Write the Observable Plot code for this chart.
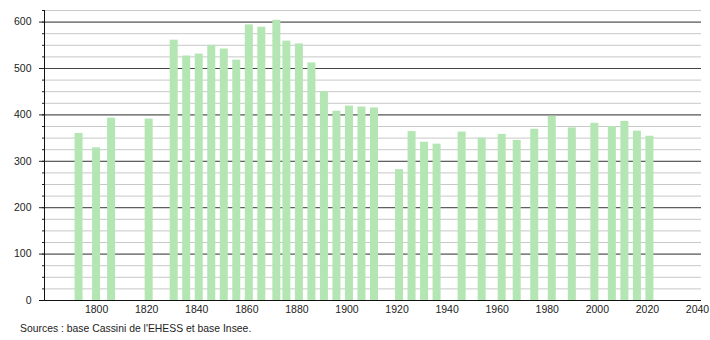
<!DOCTYPE html>
<html>
<head>
<meta charset="utf-8">
<script src="https://cdn.jsdelivr.net/npm/d3@7"></script>
<script src="https://cdn.jsdelivr.net/npm/@observablehq/plot@0.6"></script>
<style>
  html, body { margin: 0; padding: 0; background: #fff; }
  #chart svg { display: block; }
  #caption { font-family: "Liberation Sans", Arial, sans-serif; font-size: 10.4px; color: #222; margin: 7px 0 0 20px; }
</style>
</head>
<body>
<div id="chart"></div>
<div id="caption">Sources : base Cassini de l'EHESS et base Insee.</div>
<script>
const years = [1793, 1800, 1806, 1821, 1831, 1836, 1841, 1846, 1851, 1856, 1861, 1866, 1872, 1876, 1881, 1886, 1891, 1896, 1901, 1906, 1911, 1921, 1926, 1931, 1936, 1946, 1954, 1962, 1968, 1975, 1982, 1990, 1999, 2006, 2011, 2016, 2021];
const population = [360, 329, 393, 391, 561, 527, 531, 550, 542, 518, 594, 589, 604, 559, 553, 512, 450, 408, 419, 417, 415, 282, 364, 341, 337, 363, 350, 358, 345, 369, 397, 372, 382, 375, 386, 365, 354];
const xTicks = [1800, 1820, 1840, 1860, 1880, 1900, 1920, 1940, 1960, 1980, 2000, 2020, 2040];
const yTicks = [0, 100, 200, 300, 400, 500, 600];

const data = years.map((y, i) => ({year: y, pop: population[i]}));
const minor = d3.range(0, 626, 25);
const xDomain = [1779.2, 2041.6];

const chart = Plot.plot({
  width: 710,
  height: 316,
  marginTop: 10,
  marginBottom: 16,
  marginLeft: 44,
  marginRight: 9,
  style: {fontFamily: "'Liberation Sans', Arial, sans-serif", fontSize: "10.5px", color: "#222", background: "#fff"},
  x: {domain: xDomain, label: null},
  y: {domain: [0, 625], label: null},
  marks: [
    Plot.ruleY(minor, {stroke: "#c8c8c8", strokeWidth: 1}),
    Plot.ruleY(yTicks.filter(d => d > 0), {stroke: "#444", strokeWidth: 1}),
    Plot.rectY(data, {x1: d => d.year - 1.6, x2: d => d.year + 1.6, y: "pop", fill: "#b4e6b4"}),
    Plot.axisY({ticks: minor, tickSize: 2, text: null, stroke: "#222"}),
    Plot.axisY({ticks: yTicks, tickSize: 5, tickPadding: 8, tickFormat: d => String(d), stroke: "#222", fill: "#222"}),
    Plot.axisX({ticks: xTicks, tickSize: 0, tickPadding: 5, tickFormat: d => String(d), fill: "#222"}),
    Plot.ruleX([xDomain[0]], {y1: 0, y2: 625, stroke: "#111"}),
    Plot.ruleY([0], {stroke: "#111", insetLeft: -5})
  ]
});
document.getElementById("chart").appendChild(chart);
</script>
</body>
</html>
